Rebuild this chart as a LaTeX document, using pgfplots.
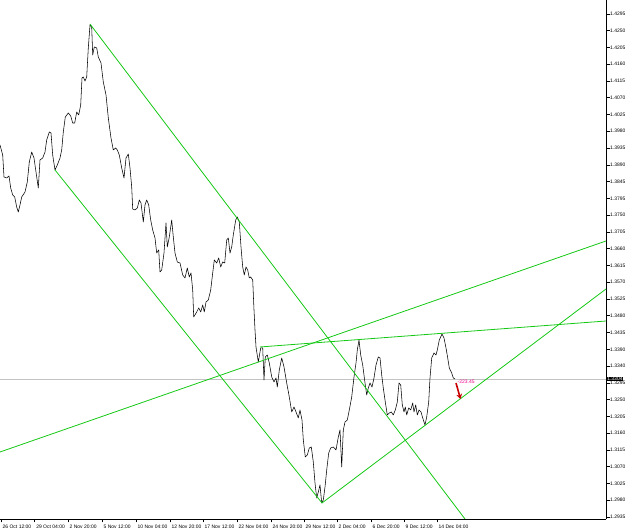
\documentclass[border=0pt]{standalone}
\usepackage{fontspec}
\setmainfont{Liberation Sans}
\usepackage{pgfplots}
\pgfplotsset{compat=1.18}
\usetikzlibrary{arrows.meta}
\definecolor{mtgreen}{RGB}{20,200,20}
\definecolor{mtred}{RGB}{200,0,0}
\definecolor{mtgrey}{RGB}{195,195,195}
\begin{document}
\begin{tikzpicture}
\useasboundingbox (0,0) rectangle (625bp,532bp);
\begin{axis}[at={(0,13bp)}, anchor=south west, scale only axis,
  width=606bp, height=519bp,
  xmin=0, xmax=606, ymin=1.29296, ymax=1.43325,
  axis x line*=bottom, axis y line*=right,
  axis line style={-, black, line width=0.6bp},
  clip mode=individual,
  tick align=outside, major tick length=3.5bp,
  tick style={black, line width=0.5bp},
  ticklabel style={font=\fontsize{5}{6}\selectfont},
  xtick={1,34.6,68,102,136,170,203,237,271,304,337,371,404,437},
  xticklabels={26 Oct 12:00,29 Oct 04:00,2 Nov 20:00,5 Nov 12:00,10 Nov 04:00,12 Nov 20:00,17 Nov 12:00,22 Nov 04:00,24 Nov 20:00,29 Nov 12:00,2 Dec 04:00,6 Dec 20:00,9 Dec 12:00,14 Dec 04:00},
  xticklabel style={anchor=north west, inner sep=0pt, xshift=1.5bp, yshift=-2bp},
  ytick={1.29350,1.29803,1.30257,1.30710,1.31163,1.31617,1.32070,1.32523,1.32977,1.33430,1.33883,1.34337,1.34790,1.35243,1.35697,1.36150,1.36603,1.37057,1.37510,1.37963,1.38417,1.38870,1.39323,1.39777,1.40230,1.40683,1.41137,1.41590,1.42043,1.42497,1.42950},
  yticklabels={1.2935,1.2980,1.3025,1.3070,1.3115,1.3160,1.3205,1.3250,1.3295,1.3340,1.3390,1.3435,1.3480,1.3525,1.3570,1.3615,1.3660,1.3705,1.3750,1.3795,1.3845,1.3890,1.3935,1.3980,1.4025,1.4070,1.4115,1.4160,1.4205,1.4250,1.4295},
  yticklabel style={anchor=west, inner sep=0pt, xshift=0.5bp},
  ]
% current price line
\addplot[mtgrey, line width=0.6bp] coordinates {(0,1.33081) (606,1.33081)};
% price
\addplot[black, line width=0.55bp, line join=round] coordinates {
(0,1.39406) (2.7,1.39135) (4,1.38541) (6.7,1.38514) (9,1.38568) (10.7,1.38243) (12.7,1.38054) (14.7,1.38000) (16.7,1.37730) (18.3,1.37595) (20,1.37784) (21.7,1.38000) (25,1.38135) (27.3,1.38406) (29.3,1.38946) (31.7,1.39216) (34,1.39054) (36,1.38676) (38.3,1.38243) (40,1.39000) (42.7,1.39054) (45,1.39216) (46.7,1.39541) (49.3,1.39757) (51,1.39730) (52.7,1.39135) (55,1.38730) (57.3,1.38865) (60,1.39054) (61.7,1.39271) (63.3,1.39757) (65.3,1.40162) (68.3,1.40271) (70.7,1.40190) (72.7,1.40000) (74.7,1.40000) (76.7,1.40298) (78.7,1.40217) (80.7,1.40487) (82,1.41217) (83.3,1.41244) (85,1.41136) (86.7,1.41244) (88.3,1.42028) (90,1.42649) (91.7,1.42595) (92.7,1.41838) (94.3,1.42055) (96.7,1.42028) (98.3,1.41784) (101,1.41622) (103.3,1.41109) (106,1.40757) (108.3,1.40136) (111,1.39595) (113.3,1.39271) (115.7,1.39325) (117.3,1.39271) (119.3,1.39135) (121.7,1.38784) (124,1.38514) (126,1.39054) (128.3,1.39162) (130,1.38784) (131.7,1.38270) (132.7,1.37676) (135,1.37649) (137.3,1.37703) (139.3,1.37919) (141,1.37838) (143.3,1.37324) (145,1.37784) (146.7,1.37919) (148.7,1.37784) (150.7,1.37378) (152.7,1.37108) (155,1.36892) (156.7,1.36486) (158.7,1.36568) (160,1.35973) (161.7,1.36027) (164,1.36486) (166,1.37297) (167.3,1.36649) (169.3,1.36919) (171.7,1.37378) (173.3,1.36919) (175,1.36486) (177.3,1.36243) (180,1.36216) (182.7,1.35892) (185,1.35811) (187.3,1.36081) (189.3,1.35838) (191,1.35946) (192.7,1.35486) (193.7,1.34757) (196.7,1.34892) (198.7,1.35000) (200.7,1.34892) (202.7,1.35081) (204.3,1.34892) (206,1.35162) (208.3,1.35216) (210.7,1.35486) (212.7,1.35946) (214.3,1.36297) (216.7,1.36216) (218.7,1.36351) (220.7,1.36108) (222.7,1.36243) (224.7,1.36216) (226.7,1.36838) (228.3,1.36892) (230,1.36486) (231.7,1.36649) (233.3,1.36973) (235.7,1.37378) (237.3,1.37460) (239.3,1.37324) (241,1.36649) (242.7,1.36108) (244.3,1.35892) (246,1.36108) (247.7,1.36027) (249.3,1.35811) (250.7,1.35838) (252.7,1.35757) (254,1.34946) (255,1.34405) (256,1.33946) (258.3,1.33540) (260.7,1.33919) (262.7,1.33919) (264,1.33054) (265.3,1.33675) (267.3,1.33729) (269.3,1.33513) (271.7,1.33135) (274,1.33000) (276,1.33108) (277.3,1.32864) (279.3,1.33324) (281.7,1.33648) (284,1.33405) (286.7,1.32973) (289.3,1.32594) (291.7,1.32189) (294,1.32324) (296,1.32189) (298.3,1.32027) (300,1.32243) (302,1.31972) (303.3,1.31432) (305.3,1.30972) (307.3,1.31026) (309.3,1.31216) (311.3,1.31243) (313.3,1.30837) (315,1.30270) (316.7,1.29864) (318.3,1.30026) (320,1.30215) (321.7,1.29729) (323.3,1.29810) (325,1.30161) (326.7,1.30621) (328.7,1.31080) (330.7,1.31216) (333.3,1.31243) (336,1.31162) (338.3,1.31513) (340,1.31702) (341.7,1.30702) (343.3,1.31702) (345,1.31918) (347.3,1.31972) (349.3,1.32243) (351.7,1.32594) (354,1.33135) (356,1.33513) (357.3,1.33865) (359,1.34135) (360.7,1.33729) (362.7,1.33459) (365,1.32973) (366.7,1.32648) (368.3,1.32837) (370,1.32973) (372,1.32864) (374,1.33108) (376,1.33459) (378.3,1.33675) (380,1.33648) (381.7,1.33189) (383.3,1.32837) (385.3,1.32459) (387.3,1.32108) (389.3,1.32162) (391.3,1.32189) (393.3,1.32108) (395.3,1.32243) (397.3,1.32459) (399,1.32973) (400.7,1.32918) (402.3,1.32378) (404,1.32189) (405.3,1.32324) (406.7,1.32108) (408.7,1.32297) (410.7,1.32243) (412.7,1.32432) (414,1.32189) (415.7,1.32378) (417.3,1.32108) (419,1.32243) (421,1.32189) (422.7,1.32027) (425,1.31837) (426.7,1.32054) (428.7,1.32459) (430,1.33108) (431.7,1.33648) (434,1.33783) (436,1.33729) (437.3,1.33865) (439.3,1.34135) (442,1.34297) (444,1.34189) (446,1.33919) (447.7,1.33648) (449.3,1.33378) (451.7,1.33243) (453.3,1.33108) (455,1.33081)
};
% trend lines
\addplot[mtgreen, line width=0.8bp] coordinates {(90,1.42676) (465,1.29296)};
\addplot[mtgreen, line width=0.8bp] coordinates {(55,1.38730) (322,1.29729)};
\addplot[mtgreen, line width=0.8bp] coordinates {(322,1.29729) (606,1.35513)};
\addplot[mtgreen, line width=0.8bp] coordinates {(260,1.33946) (606,1.34648)};
\addplot[mtgreen, line width=0.8bp] coordinates {(0,1.31107) (606,1.36811)};
% arrow
\addplot[mtred, line width=1.6bp, -{Stealth[length=5bp,width=6bp]}] coordinates {(456,1.32973) (460.5,1.32540)};
\node[anchor=west, inner sep=0pt, text=magenta, font=\fontsize{5}{6}\selectfont] at (axis cs:457.5,1.3300) {-223.45};
\node[anchor=west, inner sep=0.6bp, fill=black, text=white, font=\fontsize{5}{6}\selectfont] at (axis cs:606.5,1.33081) {1.3304};
\end{axis}
\end{tikzpicture}
\end{document}
